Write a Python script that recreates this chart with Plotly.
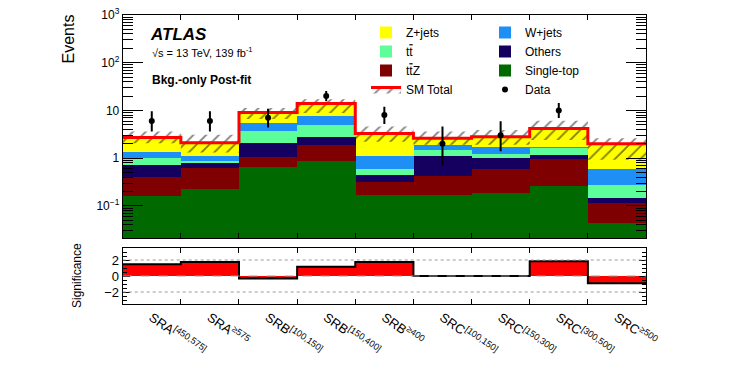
import plotly.graph_objects as go

# signal regions (bins)
regions = ["SRA<sup>[450,575]</sup>", "SRA<sup>≥575</sup>", "SRB<sup>[100,150]</sup>",
           "SRB<sup>[150,400]</sup>", "SRB<sup>≥400</sup>", "SRC<sup>[100,150]</sup>",
           "SRC<sup>[150,300]</sup>", "SRC<sup>[300,500]</sup>", "SRC<sup>≥500</sup>"]

# post-fit background yields per region
single_top = [0.165, 0.224, 0.65, 0.88, 0.17, 0.17, 0.185, 0.26, 0.045]
ttz = [0.245, 0.416, 0.43, 1.02, 0.15, 0.26, 0.405, 0.69, 0.069]
others = [0.31, 0.15, 0.98, 0.86, 0.13, 0.69, 0.41, 0.22, 0.031]
ttbar = [0.28, 0.10, 1.67, 2.24, 0.14, 0.37, 0.23, 0.50, 0.131]
wjets = [0.37, 0.23, 1.87, 2.7, 0.53, 0.41, 0.52, 0.08, 0.314]
zjets = [1.33, 0.98, 3.4, 6.3, 2.18, 0.70, 1.05, 2.45, 1.41]

# SM total uncertainty band (lower / upper edge)
sm_lo = [2.06, 1.31, 6.6, 8.8, 2.2, 1.9, 1.9, 2.4, 0.92]
sm_hi = [3.6, 3.08, 11.2, 17.2, 4.6, 3.6, 3.9, 6.1, 2.6]

# observed data
data = [6, 6, 7, 20, 8, 2, 3, 10, None]
data_up = [3.6, 3.6, 3.8, 5.5, 4.0, 2.6, 2.9, 4.3, 0]
data_dn = [2.4, 2.4, 2.6, 4.4, 2.8, 1.3, 1.6, 3.1, 0]

# significance
signif = [1.46, 1.75, -0.3, 1.17, 1.75, 0.0, 0.0, 1.83, -0.92]

nb = len(regions)
centers = [i + 0.5 for i in range(nb)]
edges = list(range(nb + 1))
total = [a + b + c + d + e + f for a, b, c, d, e, f in zip(single_top, ttz, others, ttbar, wjets, zjets)]

def step(v):
    return list(v) + [v[-1]]

# page has an 8px body margin: size the figure so it fits the window
OFF = 8
W, H = 747 - OFF, 373 - OFF

def px(x):
    return (x - OFF) / W

def py(y):
    return 1 - (y - OFF) / H

FONT = "Liberation Sans, Arial, sans-serif"

fig = go.Figure()

comps = [("Single-top", single_top, "#006a00", "legend2", 3),
         ("t<span style='text-decoration:overline'>t</span>Z", ttz, "#7f0000", "legend", 3),
         ("Others", others, "#16005f", "legend2", 2),
         ("t<span style='text-decoration:overline'>t</span>", ttbar, "#5dfd9a", "legend", 2),
         ("W+jets", wjets, "#1e90f5", "legend2", 1),
         ("Z+jets", zjets, "#ffff00", "legend", 1)]
for name, vals, col, leg, rank in comps:
    fig.add_trace(go.Bar(x=centers, y=vals, width=1, name=name, marker=dict(color=col, line_width=0),
                         legend=leg, legendrank=rank, xaxis="x", yaxis="y"))

pat = dict(shape="/", fgcolor="black", bgcolor="rgba(0,0,0,0)", size=9, solidity=0.2)
fig.add_trace(go.Scatter(x=edges, y=step(sm_hi), mode="lines", line=dict(width=0, shape="hv"),
                         showlegend=False, hoverinfo="skip"))
fig.add_trace(go.Scatter(x=edges, y=step(total), mode="lines", name="SM Total",
                         line=dict(color="red", width=3, shape="hv"), fill="tonexty",
                         fillcolor="rgba(0,0,0,0)", fillpattern=pat, legend="legend", legendrank=4))
fig.add_trace(go.Scatter(x=edges, y=step(sm_lo), mode="lines", line=dict(width=0, shape="hv"),
                         fill="tonexty", fillcolor="rgba(0,0,0,0)", fillpattern=pat,
                         showlegend=False, hoverinfo="skip"))

fig.add_trace(go.Scatter(x=centers, y=data, mode="markers", name="Data",
                         marker=dict(color="black", size=6),
                         error_y=dict(type="data", symmetric=False, array=data_up, arrayminus=data_dn,
                                      color="black", thickness=2, width=0),
                         legend="legend2", legendrank=4))

# significance panel
fig.add_trace(go.Bar(x=centers, y=signif, width=1, marker=dict(color="red", line_width=0),
                     showlegend=False, xaxis="x2", yaxis="y2"))
fig.add_trace(go.Scatter(x=edges, y=step(signif), mode="lines", line=dict(color="black", width=2, shape="hv"),
                         showlegend=False, xaxis="x2", yaxis="y2"))

xdom = [px(122.7), px(646)]
axis_common = dict(showline=True, linecolor="black", linewidth=1, mirror="ticks",
                   showgrid=False, zeroline=False, tickcolor="black", automargin=False,
                   ticklabeloverflow="allow")

decades = [0.01, 0.1, 1, 10, 100]
minor_y = [d * k for d in decades for k in range(2, 10)]

fig.update_layout(
    width=W, height=H, margin=dict(l=0, r=0, t=0, b=0),
    plot_bgcolor="white", paper_bgcolor="white",
    font=dict(family=FONT, color="black", size=12),
    barmode="stack", bargap=0,
    xaxis=dict(domain=xdom, range=[0, nb], anchor="y", tickvals=edges[1:-1], ticks="inside",
               ticklen=5, showticklabels=False, **axis_common),
    yaxis=dict(domain=[py(238.3), py(14.8)], type="log", range=[-1.68, 3.004], anchor="x",
               tickvals=[0.1, 1, 10, 100, 1000],
               ticktext=["10<sup>−1</sup>", "1", "10", "10<sup>2</sup>", "10<sup>3</sup>"],
               ticks="inside", ticklen=20,
               minor=dict(tickvals=minor_y, ticks="inside", ticklen=10, tickcolor="black"),
               tickfont=dict(size=12), **axis_common),
    xaxis2=dict(domain=xdom, range=[0, nb], anchor="y2", tickvals=centers, ticktext=regions,
                ticks="", tickangle=35, tickfont=dict(size=13),
                minor=dict(tickvals=edges[1:-1], ticks="inside", ticklen=5, tickcolor="black"),
                **axis_common),
    yaxis2=dict(domain=[py(304), py(248)], range=[-3.5, 3.5], anchor="x2", tickvals=[-2, 0, 2],
                ticktext=["−2", "0", "2"], ticks="inside", ticklen=7,
                minor=dict(dtick=0.5, ticks="inside", ticklen=4, tickcolor="black"),
                tickfont=dict(size=13), **axis_common),
    legend=dict(x=px(366), y=py(18), xanchor="left", yanchor="top", bgcolor="rgba(0,0,0,0)",
                traceorder="normal", itemwidth=30, font=dict(size=12)),
    legend2=dict(x=px(485), y=py(18), xanchor="left", yanchor="top", bgcolor="rgba(0,0,0,0)",
                 traceorder="normal", itemwidth=30, font=dict(size=12)),
)

for yv, dash in [(2, "dot"), (0, "dash"), (-2, "dot")]:
    fig.add_shape(type="line", xref="x2", yref="y2", x0=0, x1=nb, y0=yv, y1=yv,
                  line=dict(color="#999999", width=1, dash=dash), layer="above")

fig.add_annotation(x=px(148), y=py(34), xref="paper", yref="paper", xanchor="left", yanchor="middle",
                   text="<b><i>ATLAS</i></b>", showarrow=False, font=dict(size=17))
fig.add_annotation(x=px(150), y=py(52), xref="paper", yref="paper", xanchor="left", yanchor="middle",
                   text="√s = 13 TeV, 139 fb<sup>-1</sup>", showarrow=False, font=dict(size=11))
fig.add_annotation(x=px(150), y=py(80), xref="paper", yref="paper", xanchor="left", yanchor="middle",
                   text="<b>Bkg.-only Post-fit</b>", showarrow=False, font=dict(size=12))
fig.add_annotation(x=px(68), y=py(13), xref="paper", yref="paper", xanchor="center",
                   yanchor="top", text="Events", textangle=-90, showarrow=False, font=dict(size=16))
fig.add_annotation(x=px(77), y=py(276), xref="paper", yref="paper", xanchor="center",
                   yanchor="middle", text="Significance", textangle=-90, showarrow=False,
                   font=dict(size=12))

fig.write_html("out.html")
